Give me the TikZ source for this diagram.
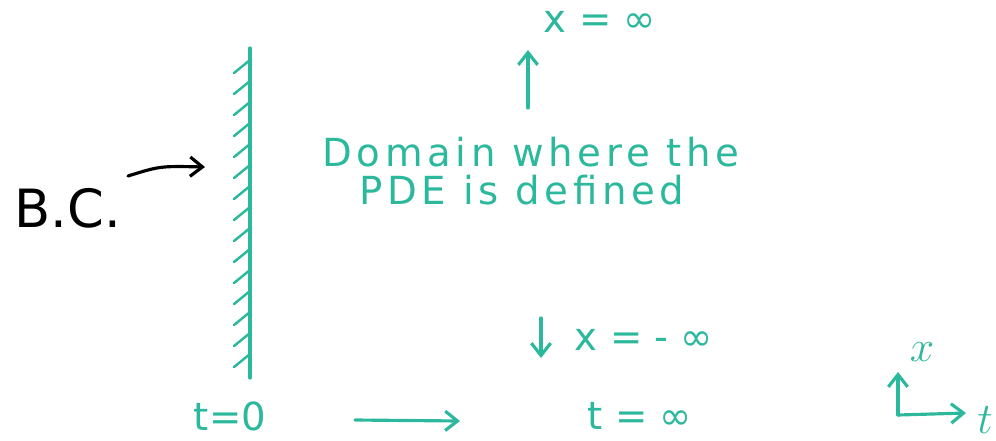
\documentclass[tikz,border=0pt]{standalone}
\usepackage{fontspec}
\setmainfont{DejaVu Sans}
\newfontfamily\widefont[LetterSpace=12]{DejaVu Sans}
\usetikzlibrary{arrows.meta}
\definecolor{pen}{RGB}{44,184,156}
\tikzset{
	ink/.style={line width=1.8pt,line cap=round,pen},
	arr/.style={ink,-{Straight Barb[length=7pt,width=11pt]}},
	txt/.style={pen,font=\fontsize{22}{26}\selectfont,inner sep=0pt},
	widetxt/.style={pen,font=\widefont\fontsize{22}{26}\selectfont,inner sep=0pt},
	axtxt/.style={pen,font=\fontsize{30}{34}\selectfont,inner sep=0pt},
	bigtxt/.style={font=\fontsize{30}{34}\selectfont,inner sep=0pt}
}
\begin{document}
\begin{tikzpicture}[x=0.02cm,y=-0.02cm]
					\useasboundingbox (0,0) rectangle (996,440);

					\coordinate (top) at (250,48);
					\coordinate (bot) at (250,378);
					\draw[ink] (top) -- (bot);
					\foreach \y in {60,81,...,355}
						\draw[ink,line width=1.4pt] (250,\y) -- ++(-16,13);

					\node[bigtxt] (bc) at (68,208) {B.C.};
					\coordinate (bcend) at (205,167);
					\draw[line width=1.8pt,line cap=round,-{Straight Barb[length=7pt,width=11pt]}]
						(128,176) .. controls (160,166) .. (bcend);

					\node[widetxt] (dom1) at (531,152) {Domain where the};
					\node[widetxt] (dom2) at (522,190) {PDE is defined};

					\node[txt] (xinf) at (600,22) {x = ∞};
					\coordinate (up0) at (528,108);
					\coordinate (up1) at (528,50);
					\draw[arr] (up0) -- (up1);

					\node[txt] (xminf) at (644,340) {x = - ∞};
					\coordinate (dn0) at (541,318);
					\coordinate (dn1) at (541,358);
					\draw[arr] (dn0) -- (dn1);

					\node[txt] (t0) at (230,416) {t=0};
					\node[txt] (tinf) at (640,416) {t = ∞};
					\coordinate (ta) at (355,420);
					\coordinate (tb) at (460,421);
					\draw[arr] (ta) -- (tb);

					\coordinate (o) at (898,415);
					\draw[arr] (o) -- (898,372);
					\draw[arr] (o) -- (966,413);
					\node[axtxt] (xax) at (922,352) {$x$};
					\node[axtxt] (tax) at (985,420) {$t$};
				\end{tikzpicture}
\end{document}
